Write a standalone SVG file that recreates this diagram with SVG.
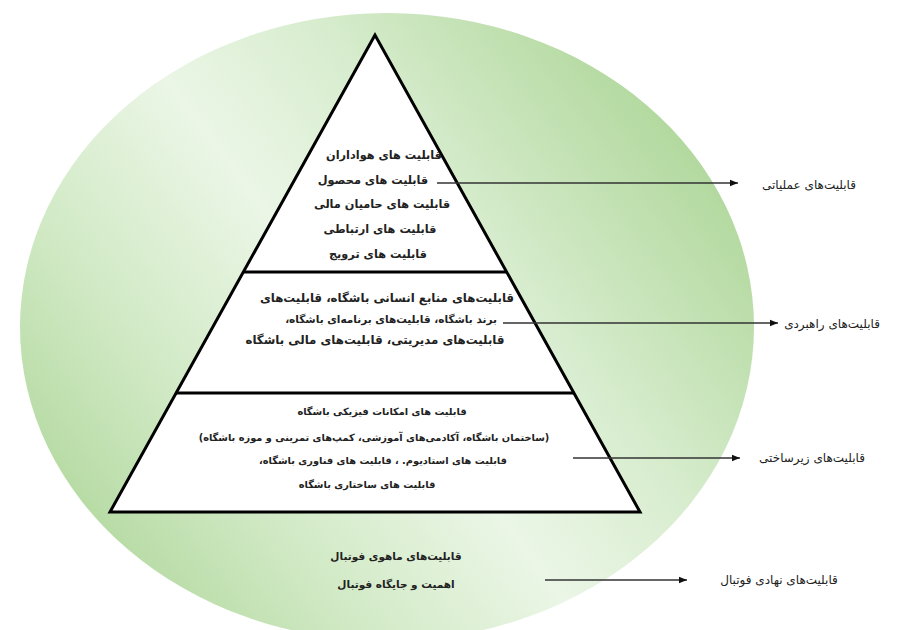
<svg xmlns="http://www.w3.org/2000/svg" width="899" height="630" viewBox="0 0 899 630">
<defs>
<linearGradient id="g" gradientUnits="userSpaceOnUse" x1="720" y1="120" x2="120" y2="580">
<stop offset="0" stop-color="#acd596"/>
<stop offset="0.35" stop-color="#d8edcf"/>
<stop offset="0.55" stop-color="#ebf6e6"/>
<stop offset="0.8" stop-color="#d0e9c4"/>
<stop offset="1" stop-color="#b5daa2"/>
</linearGradient>
<marker id="ah" viewBox="0 0 10 10" refX="10" refY="5" markerWidth="8" markerHeight="8" markerUnits="userSpaceOnUse" orient="auto">
<path d="M0,1 L10,5 L0,9 Z" fill="#111"/>
</marker>
<style>
.t{font-family:"DejaVu Sans",sans-serif;font-weight:bold;fill:#222;text-anchor:middle;direction:rtl}
.t1{font-size:11.3px}
.t2{font-size:11.8px}
.t3{font-size:9.8px}
.t4{font-size:10.5px}
.l{font-family:"DejaVu Sans",sans-serif;font-size:12px;fill:#222;text-anchor:middle;direction:rtl}
.c{stroke:#333;stroke-width:1.3;fill:none;marker-end:url(#ah)}
.p{stroke:#000;stroke-width:3;fill:#fff;stroke-linejoin:miter}
</style>
</defs>
<ellipse id="bg" cx="387" cy="327" rx="367" ry="314" fill="url(#g)"/>
<g id="pyramid">
<polygon class="p" points="375,35 110,512 640,512"/>
<line x1="243" y1="272" x2="507" y2="272" stroke="#000" stroke-width="3"/>
<line x1="176" y1="393" x2="574" y2="393" stroke="#000" stroke-width="3"/>
</g>
<g id="connectors">
<line class="c" x1="437" y1="183" x2="738" y2="183"/>
<line class="c" x1="503" y1="323" x2="778" y2="323"/>
<line class="c" x1="573" y1="458" x2="740" y2="458"/>
<line class="c" x1="545" y1="580" x2="687" y2="580"/>
</g>
<g id="tier-operational" class="t t1">
<text x="384" y="159">قابلیت های هواداران</text>
<text x="373" y="184">قابلیت های محصول</text>
<text x="382" y="208">قابلیت های حامیان مالی</text>
<text x="380" y="233">قابلیت های ارتباطی</text>
<text x="378" y="258">قابلیت های ترویج</text>
</g>
<g id="tier-strategic" class="t t2">
<text x="387" y="302">قابلیت‌های منابع انسانی باشگاه، قابلیت‌های</text>
<text x="391" y="323" style="font-size:10.5px">برند باشگاه، قابلیت‌های برنامه‌ای باشگاه،</text>
<text x="375" y="344">قابلیت‌های مدیریتی، قابلیت‌های مالی باشگاه</text>
</g>
<g id="tier-infrastructure" class="t t3">
<text x="382" y="415">قابلیت های امکانات فیزیکی باشگاه</text>
<text x="374" y="441">(ساختمان باشگاه، آکادمی‌های آموزشی، کمپ‌های تمرینی و موزه باشگاه)</text>
<text x="383" y="464">قابلیت های استادیوم. ، قابلیت های فناوری باشگاه،</text>
<text x="367" y="488">قابلیت های ساختاری باشگاه</text>
</g>
<g id="tier-institutional" class="t t4">
<text x="396" y="560">قابلیت‌های ماهوی فوتبال</text>
<text x="396" y="588">اهمیت و جایگاه فوتبال</text>
</g>
<g id="labels">
<text class="l" x="809" y="189">قابلیت‌های عملیاتی</text>
<text class="l" x="832" y="328">قابلیت‌های راهبردی</text>
<text class="l" x="812" y="462">قابلیت‌های زیرساختی</text>
<text class="l" x="779" y="584">قابلیت‌های نهادی فوتبال</text>
</g>
</svg>
